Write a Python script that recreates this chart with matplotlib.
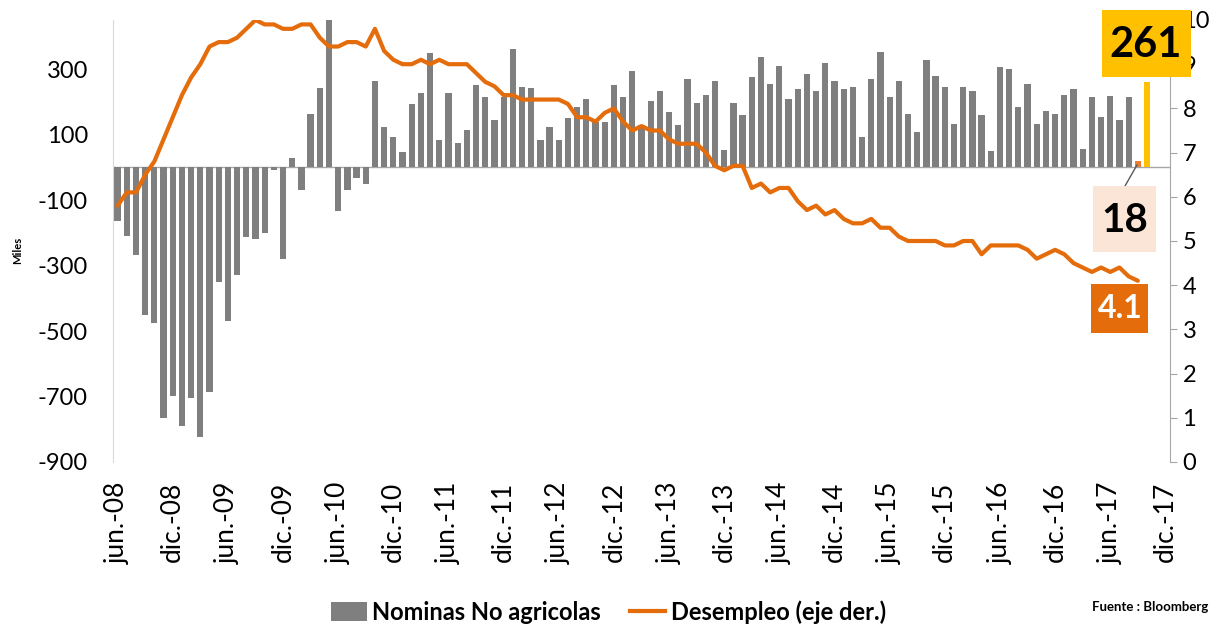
import numpy as np
import matplotlib
matplotlib.use("Agg")
import matplotlib.pyplot as plt
from matplotlib.patches import Rectangle, Patch
from matplotlib.lines import Line2D

plt.rcParams['font.family'] = ['Lato', 'DejaVu Sans']
plt.rcParams['axes.unicode_minus'] = False

# Monthly non-farm payrolls change (thousands), jun-08 .. oct-17
nfp = [-165, -210, -267, -450, -474, -765, -697, -791, -703, -823, -686, -351,
       -470, -329, -212, -219, -200, -7, -279, 27, -69, 163, 243, 522,
       -133, -70, -34, -52, 265, 124, 92, 47, 193, 228, 350, 82,
       228, 74, 113, 252, 215, 146, 215, 360, 244, 241, 84, 122,
       84, 151, 185, 210, 139, 139, 250, 216, 295, 130, 204, 232,
       169, 130, 269, 196, 220, 265, 54, 195, 159, 277, 336, 254,
       309, 210, 239, 285, 232, 318, 263, 240, 246, 92, 271, 351,
       214, 263, 164, 108, 329, 278, 246, 132, 244, 232, 161, 51,
       305, 300, 183, 256, 132, 171, 162, 222, 239, 57, 214, 153,
       217, 145, 214, 18, 261]

# Unemployment rate (%), right axis
unemp = [5.8, 6.1, 6.1, 6.5, 6.8, 7.3, 7.8, 8.3, 8.7, 9.0, 9.4, 9.5,
         9.5, 9.6, 9.8, 10.0, 9.9, 9.9, 9.8, 9.8, 9.9, 9.9, 9.6, 9.4,
         9.4, 9.5, 9.5, 9.4, 9.8, 9.3, 9.1, 9.0, 9.0, 9.1, 9.0, 9.1,
         9.0, 9.0, 9.0, 8.8, 8.6, 8.5, 8.3, 8.3, 8.2, 8.2, 8.2, 8.2,
         8.2, 8.1, 7.8, 7.8, 7.7, 7.9, 8.0, 7.7, 7.5, 7.6, 7.5, 7.5,
         7.3, 7.2, 7.2, 7.2, 7.0, 6.7, 6.6, 6.7, 6.7, 6.2, 6.3, 6.1,
         6.2, 6.2, 5.9, 5.7, 5.8, 5.6, 5.7, 5.5, 5.4, 5.4, 5.5, 5.3,
         5.3, 5.1, 5.0, 5.0, 5.0, 5.0, 4.9, 4.9, 5.0, 5.0, 4.7, 4.9,
         4.9, 4.9, 4.9, 4.8, 4.6, 4.7, 4.8, 4.7, 4.5, 4.4, 4.3, 4.4,
         4.3, 4.4, 4.2, 4.1]

tick_labels = ['jun.-08', 'dic.-08', 'jun.-09', 'dic.-09', 'jun.-10', 'dic.-10',
               'jun.-11', 'dic.-11', 'jun.-12', 'dic.-12', 'jun.-13', 'dic.-13',
               'jun.-14', 'dic.-14', 'jun.-15', 'dic.-15', 'jun.-16', 'dic.-16',
               'jun.-17', 'dic.-17']

n_slots = 115  # jun-08 .. dic-17
W, H = 1222, 627

GRAY = '#7F7F7F'
ORANGE = '#E46C0A'
YELLOW = '#FFC000'

fig = plt.figure(figsize=(W / 100, H / 100), dpi=100)
ax = fig.add_axes([113 / W, 1 - 462 / H, (1170 - 113) / W, (462 - 20) / H])
ax2 = ax.twinx()

x = np.arange(len(nfp))
colors = [GRAY] * len(nfp)
colors[-2] = '#ED7D31'
colors[-1] = YELLOW
ax.bar(x, nfp, width=0.68, color=colors, zorder=2)
ax.axhline(0, color='#A6A6A6', lw=1, zorder=1)
ax.set_xlim(-0.5, n_slots - 0.5)
ax.set_ylim(-900, 450)
ax.set_yticks(np.arange(-900, 301, 200))
ax.set_xticks(np.arange(0, n_slots, 6))
ax.set_xticklabels(tick_labels, rotation=90, fontsize=19)
ax.tick_params(axis='x', length=0, pad=14)
ax.tick_params(axis='y', length=0, pad=18, labelsize=17)
for s in ['top', 'right', 'bottom']:
    ax.spines[s].set_visible(False)
ax.spines['left'].set_color('#D9D9D9')

ax2.plot(np.arange(len(unemp)), unemp, color=ORANGE, lw=3,
         solid_joinstyle='round', solid_capstyle='round', zorder=3)
ax2.set_ylim(0, 10)
ax2.set_yticks(np.arange(0, 11, 1))
ax2.tick_params(axis='y', length=5, color='#A6A6A6', pad=4, labelsize=17)
for s in ['top', 'left', 'bottom']:
    ax2.spines[s].set_visible(False)
ax2.spines['right'].set_color('#A6A6A6')

fig.text(18 / W, 1 - 250 / H, 'Miles', rotation=90, ha='center', va='center',
         fontsize=8, fontweight='bold')


def prect(x0, y0, x1, y1, color):
    r = Rectangle((x0 / W, 1 - y1 / H), (x1 - x0) / W, (y1 - y0) / H,
                  transform=fig.transFigure, facecolor=color, edgecolor='none',
                  zorder=10)
    fig.patches.append(r)


def ptext(xc, yc, s, **kw):
    fig.text(xc / W, 1 - yc / H, s, ha='center', va='center', zorder=11, **kw)


# 261 label
prect(1102, 10, 1191, 77, YELLOW)
ptext(1146, 45, str(nfp[-1]), fontsize=30, fontweight='bold', color='black')
# 18 label
prect(1093, 186, 1156, 252, '#FBE5D6')
ptext(1125, 220, str(nfp[-2]), fontsize=29, fontweight='bold', color='black')
fig.lines.append(Line2D([1125 / W, 1137 / W], [1 - 186 / H, 1 - 165 / H],
                        transform=fig.transFigure, color='#595959', lw=1))
# 4.1 label
prect(1091, 284, 1148, 333, ORANGE)
ptext(1120, 309, f'{unemp[-1]:.1f}', fontsize=23, fontweight='bold', color='white')

handles = [Patch(facecolor=GRAY, edgecolor='none'),
           Line2D([], [], color=ORANGE, lw=3)]
fig.legend(handles, ['Nominas No agricolas', 'Desempleo (eje der.)'],
           loc='center', bbox_to_anchor=(0.498, 0.024), ncol=2, frameon=False,
           prop=dict(weight='bold', size=17), handlelength=1.5, handleheight=0.9,
           handletextpad=0.25, columnspacing=1.2)

fig.text(1208 / W, 1 - 607 / H, 'Fuente : Bloomberg', ha='right', va='center',
         fontsize=9.5, fontweight='bold')

fig.savefig('out.png', dpi=100)
